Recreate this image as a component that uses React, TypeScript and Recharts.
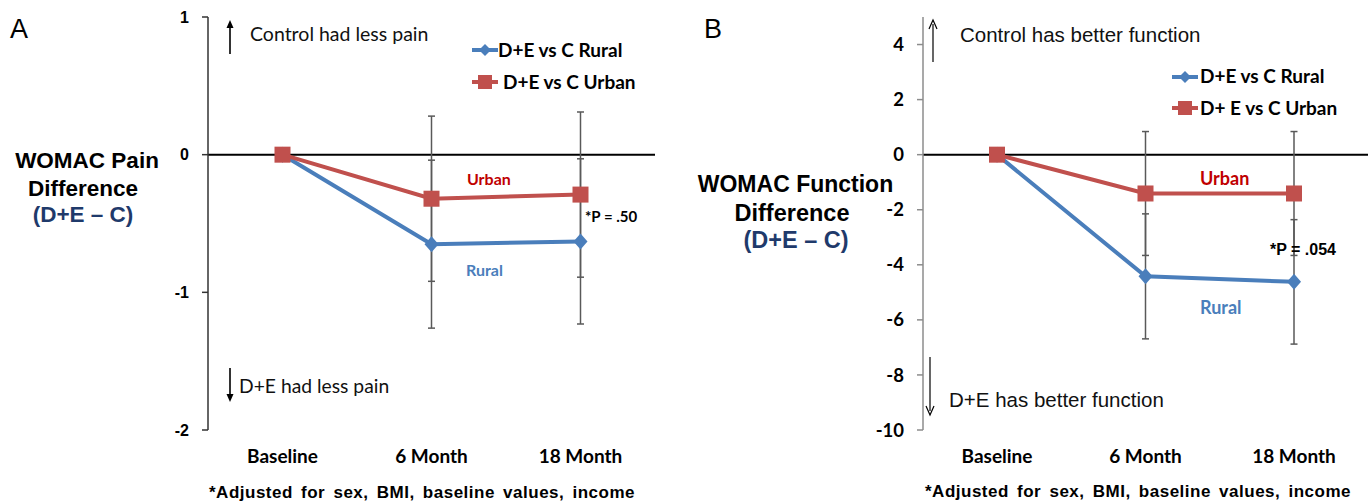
import React from 'react'
import { ComposedChart, Line, XAxis, YAxis, ErrorBar, ReferenceLine } from 'recharts'

const timepoints = ['Baseline', '6 Month', '18 Month']

// panel A - WOMAC pain
const painRural = [0, -0.65, -0.63]
const painRuralErr = [null, 0.61, 0.6]
const painUrban = [0, -0.32, -0.29]
const painUrbanErr = [null, 0.6, 0.6]
const painTicks = [-2, -1, 0, 1]

// panel B - WOMAC function
const funcRural = [0, -4.42, -4.62]
const funcRuralErr = [null, 2.27, 2.26]
const funcUrban = [0, -1.41, -1.41]
const funcUrbanErr = [null, 2.25, 2.25]
const funcTicks = [-10, -8, -6, -4, -2, 0, 2, 4]

const BLUE = '#4A7EBB'
const RED = '#C0504D'
const NAVY = '#1F3A6B'
const ERR = '#595959'

const build = (rural, ruralErr, urban, urbanErr) =>
  timepoints.map((time, i) => ({
    time,
    rural: rural[i],
    ruralErr: ruralErr[i],
    urban: urban[i],
    urbanErr: urbanErr[i],
  }))

const painData = build(painRural, painRuralErr, painUrban, painUrbanErr)
const funcData = build(funcRural, funcRuralErr, funcUrban, funcUrbanErr)

const Diamond = (props) => {
  const { cx, cy, index } = props
  if (cx == null || cy == null) return null
  return (
    <polygon
      key={`d-${index}`}
      points={`${cx},${cy - 8} ${cx + 7},${cy} ${cx},${cy + 8} ${cx - 7},${cy}`}
      fill={BLUE}
    />
  )
}

const Square = (props) => {
  const { cx, cy, index } = props
  if (cx == null || cy == null) return null
  return <rect key={`s-${index}`} x={cx - 8} y={cy - 8} width={16} height={16} fill={RED} />
}

const painTickFont = { fill: '#000', fontSize: 16, fontWeight: 700, fontFamily: 'Liberation Sans' }
const funcTickFont = { fill: '#000', fontSize: 18.5, fontWeight: 700, fontFamily: 'Lato' }
const xFont = { fill: '#000', fontSize: 19, fontWeight: 700, fontFamily: 'Lato' }

function Panel({ data, domain, ticks, axisColor, yWidth, right, left, pad, tickFont }) {
  return (
    <div style={{ position: 'absolute', left, top: 0 }}>
      <ComposedChart
        width={686}
        height={501}
        data={data}
        margin={{ top: 17, right, left: 0, bottom: 41 }}
      >
        <XAxis
          dataKey="time"
          height={30}
          padding={{ left: pad, right: pad }}
          axisLine={false}
          tickLine={false}
          tickSize={6}
          tickMargin={14}
          tick={xFont}
          interval={0}
        />
        <YAxis
          width={yWidth}
          domain={domain}
          ticks={ticks}
          allowDataOverflow
          interval={0}
          axisLine={{ stroke: axisColor, strokeWidth: 1.5 }}
          tickLine={{ stroke: axisColor, strokeWidth: 1.5 }}
          tickSize={6}
          tickMargin={13}
          tick={tickFont}
        />
        <ReferenceLine y={0} stroke="#000" strokeWidth={2} />
        <Line
          dataKey="rural"
          stroke={BLUE}
          strokeWidth={4}
          dot={Diamond}
          activeDot={false}
          isAnimationActive={false}
        >
          <ErrorBar dataKey="ruralErr" direction="y" width={3.5} stroke={ERR} strokeWidth={1.5} />
        </Line>
        <Line
          dataKey="urban"
          stroke={RED}
          strokeWidth={4}
          dot={Square}
          activeDot={false}
          isAnimationActive={false}
        >
          <ErrorBar dataKey="urbanErr" direction="y" width={3.5} stroke={ERR} strokeWidth={1.5} />
        </Line>
      </ComposedChart>
    </div>
  )
}

function Arrow({ x, y1, y2, up, open }) {
  const tip = up ? y1 : y2
  const d = up ? 1 : -1
  return (
    <g>
      <line x1={x} y1={up ? y1 + 4 : y1} x2={x} y2={up ? y2 : y2 - 4} stroke="#000" strokeWidth={open ? 1.2 : 1.6} />
      {open ? (
        <polyline
          points={`${x - 4},${tip + d * 9} ${x},${tip} ${x + 4},${tip + d * 9}`}
          fill="none"
          stroke="#000"
          strokeWidth={1.2}
        />
      ) : (
        <polygon points={`${x - 3.5},${tip + d * 8} ${x},${tip} ${x + 3.5},${tip + d * 8}`} fill="#000" />
      )}
    </g>
  )
}

function LegendRow({ x, y, tx, ty, label, kind }) {
  const color = kind === 'diamond' ? BLUE : RED
  const cx = x + 13
  return (
    <g>
      <line x1={x} y1={y} x2={x + 26} y2={y} stroke={color} strokeWidth={4} />
      {kind === 'diamond' ? (
        <polygon points={`${cx},${y - 6} ${cx + 6},${y} ${cx},${y + 6} ${cx - 6},${y}`} fill={color} />
      ) : (
        <rect x={cx - 7} y={y - 7} width={14} height={14} fill={color} />
      )}
      <text x={tx} y={ty} fontFamily="Lato" fontWeight={700} fontSize={19} fill="#000">
        {label}
      </text>
    </g>
  )
}

function Overlay() {
  const lbl = { fontFamily: 'Liberation Sans', fontWeight: 700, textAnchor: 'middle' as const }
  const foot = { fontFamily: 'Liberation Sans', fontWeight: 700, fontSize: 17, letterSpacing: 0.5, wordSpacing: 3 }
  return (
    <svg
      width={1372}
      height={501}
      style={{ position: 'absolute', left: 0, top: 0, pointerEvents: 'none' }}
    >
      {/* panel A */}
      <text x={10} y={38} fontFamily="Liberation Sans" fontSize={27} fill="#000">A</text>
      <text x={87} y={168} {...lbl} fontSize={22.5} fill="#000">WOMAC Pain</text>
      <text x={83} y={196} {...lbl} fontSize={22.5} fill="#000">Difference</text>
      <text x={83} y={222} {...lbl} fontSize={22.5} fill={NAVY}>(D+E – C)</text>
      <Arrow x={230} y1={20} y2={54} up />
      <text x={250} y={41} fontFamily="Lato" fontSize={19.5} fill="#111">Control had less pain</text>
      <Arrow x={230} y1={368} y2={402} />
      <text x={239} y={393} fontFamily="Lato" fontSize={19.3} fill="#111">D+E had less pain</text>
      <LegendRow x={472} y={50} tx={498} ty={57} label="D+E vs C Rural" kind="diamond" />
      <LegendRow x={472} y={82} tx={503} ty={88.5} label="D+E vs C Urban" kind="square" />
      <text x={467} y={185} fontFamily="Lato" fontWeight={700} fontSize={16} fill="#C00000">Urban</text>
      <text x={466} y={276} fontFamily="Lato" fontWeight={700} fontSize={16} fill={BLUE}>Rural</text>
      <text x={585} y={222} fontFamily="Lato" fontWeight={700} fontSize={15} fill="#000">*P = .50</text>
      <text x={209} y={498} {...foot} fill="#000">
        *Adjusted for sex, BMI, baseline values, income
      </text>

      {/* panel B */}
      <text x={704} y={38} fontFamily="Liberation Sans" fontSize={27} fill="#000">B</text>
      <text x={795.5} y={192} {...lbl} fontSize={23} fill="#000">WOMAC Function</text>
      <text x={792} y={221} {...lbl} fontSize={23.5} fill="#000">Difference</text>
      <text x={796} y={248} {...lbl} fontSize={23.5} fill={NAVY}>(D+E – C)</text>
      <Arrow x={933} y1={20} y2={62} up open />
      <text x={960} y={41.5} fontFamily="Liberation Sans" fontSize={20.5} fill="#111">Control has better function</text>
      <Arrow x={930} y1={357} y2={415} open />
      <text x={949} y={406.5} fontFamily="Liberation Sans" fontSize={20.5} fill="#111">D+E has better function</text>
      <LegendRow x={1172} y={77} tx={1200} ty={83} label="D+E vs C Rural" kind="diamond" />
      <LegendRow x={1172} y={108} tx={1200} ty={115} label="D+ E vs C Urban" kind="square" />
      <text x={1200} y={185} fontFamily="Lato" fontWeight={700} fontSize={18} fill="#C00000">Urban</text>
      <text x={1200} y={314} fontFamily="Lato" fontWeight={700} fontSize={18} fill={BLUE}>Rural</text>
      <text x={1270} y={255} fontFamily="Liberation Sans" fontWeight={700} fontSize={16} fill="#000">*P = .054</text>
      <text x={925} y={497} {...foot} fill="#000">
        *Adjusted for sex, BMI, baseline values, income
      </text>
    </svg>
  )
}

export default function App() {
  return (
    <div style={{ position: 'absolute', left: 0, top: 0, width: 1372, height: 501, background: '#fff' }}>
      <Panel data={painData} domain={[-2, 1]} ticks={painTicks} axisColor="#333" yWidth={208} right={31} left={0} pad={74.5} tickFont={painTickFont} />
      <Panel data={funcData} domain={[-10, 5]} ticks={funcTicks} axisColor="#8c8c8c" yWidth={237} right={4} left={686} pad={74} tickFont={funcTickFont} />
      <Overlay />
    </div>
  )
}
